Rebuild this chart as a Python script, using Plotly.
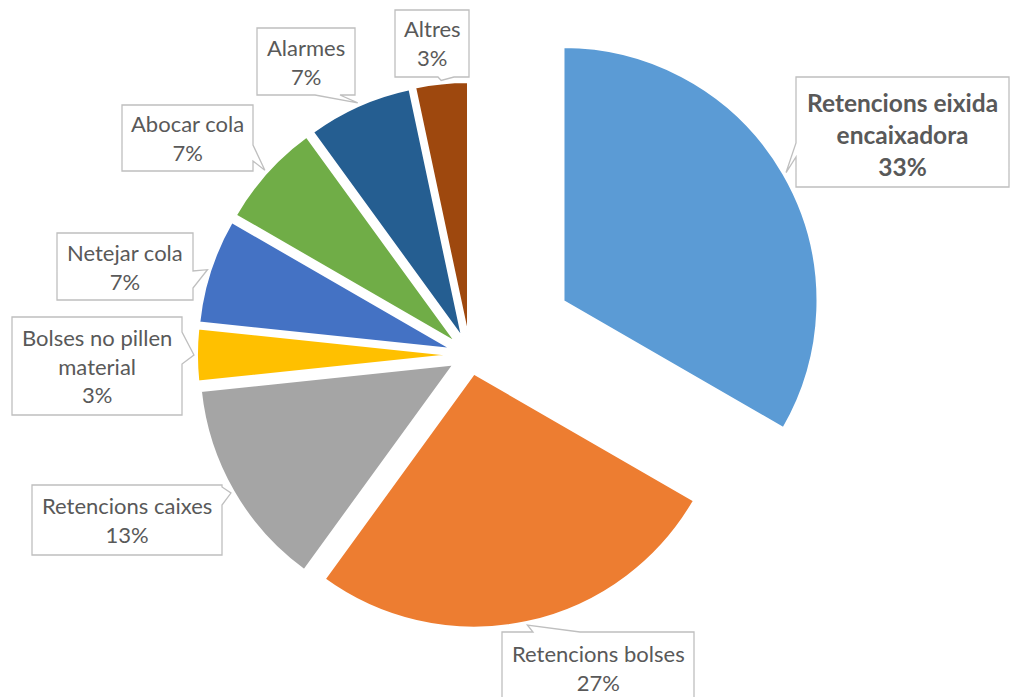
import math
import plotly.graph_objects as go

# Incident counts per cause (share of total shown in the callouts)
categories = [
    "Retencions eixida encaixadora",
    "Retencions bolses",
    "Retencions caixes",
    "Bolses no pillen material",
    "Netejar cola",
    "Abocar cola",
    "Alarmes",
    "Altres",
]
counts = [10, 8, 4, 1, 2, 2, 2, 1]
label_lines = [
    "Retencions eixida<br>encaixadora",
    "Retencions bolses",
    "Retencions caixes",
    "Bolses no pillen<br>material",
    "Netejar cola",
    "Abocar cola",
    "Alarmes",
    "Altres",
]
colors = ["#5B9BD5", "#ED7D31", "#A5A5A5", "#FFC000",
          "#4472C4", "#70AD47", "#255E91", "#9E480E"]

W, H = 1011, 697
TEXT = "#595959"
FONT = "Lato"

# pie geometry in pixels
CX, CY = 470, 355          # centre of the main pie
R = 254                    # slice radius
PULL = 0.075               # explosion of every slice (fraction of R)
BIG_PULL = 0.425           # extra explosion of the leading slice
LINE_W = 2

total = sum(counts)
n = len(counts)


def px(x):
    return x / W


def py(y):
    return 1 - y / H


def mid_angle(i):
    start = sum(counts[:i])
    return (start + counts[i] / 2) / total * 2 * math.pi


# main pie: all slices except the first, which is drawn separately further out
half = R * (1 + PULL)
main_colors = ["rgba(0,0,0,0)"] + colors[1:]
main_lines = ["rgba(0,0,0,0)"] + ["white"] * (n - 1)

a0 = mid_angle(0)
bx = CX + BIG_PULL * R * math.sin(a0)
by = CY - BIG_PULL * R * math.cos(a0)
lead_colors = [colors[0]] + ["rgba(0,0,0,0)"] * (n - 1)
lead_lines = ["white"] + ["rgba(0,0,0,0)"] * (n - 1)

fig = go.Figure()
fig.add_trace(go.Pie(
    labels=categories, values=counts, sort=False, direction="clockwise",
    rotation=0, pull=[PULL] * n, textinfo="none", hoverinfo="skip",
    marker=dict(colors=main_colors, line=dict(color=main_lines, width=LINE_W)),
    domain=dict(x=[px(CX - half), px(CX + half)], y=[py(CY + half), py(CY - half)]),
    showlegend=False,
))
fig.add_trace(go.Pie(
    labels=categories, values=counts, sort=False, direction="clockwise",
    rotation=0, textinfo="none", hoverinfo="skip",
    marker=dict(colors=lead_colors, line=dict(color=lead_lines, width=LINE_W)),
    domain=dict(x=[px(bx - R), px(bx + R)], y=[py(by + R), py(by - R)]),
    showlegend=False,
))

# callout boxes: left, top, right, bottom, side of the pointer, pointer base span
boxes = [
    (796, 77, 1009, 187, "left", 143, 157),
    (502, 632, 694, 703, "top", 533, 580),
    (32, 485, 222, 555, "right", 487, 505),
    (12, 317, 182, 415, "right", 332, 364),
    (57, 233, 193, 300, "right", 271, 288),
    (122, 105, 253, 171, "right", 145, 161),
    (257, 28, 355, 95, "bottom", 315, 340),
    (395, 10, 469, 77, "bottom", 438, 454),
]

shapes = []
annotations = []
for i, (l, t, r, b, side, s0, s1) in enumerate(boxes):
    ang = mid_angle(i)
    if i == 0:
        ox, oy, reach = bx, by, R + 3
    else:
        ox, oy, reach = CX, CY, R * (1 + PULL) + 3
    tx = ox + reach * math.sin(ang)
    ty = oy - reach * math.cos(ang)
    if side == "left":
        pts = [(l, t), (r, t), (r, b), (l, b), (l, s1), (tx, ty), (l, s0)]
    elif side == "right":
        pts = [(l, t), (r, t), (r, s0), (tx, ty), (r, s1), (r, b), (l, b)]
    elif side == "top":
        pts = [(l, t), (s0, t), (tx, ty), (s1, t), (r, t), (r, b), (l, b)]
    else:
        pts = [(l, t), (r, t), (r, b), (s1, b), (tx, ty), (s0, b), (l, b)]
    path = "M " + " L ".join(f"{px(x):.5f},{py(y):.5f}" for x, y in pts) + " Z"
    shapes.append(dict(type="path", xref="paper", yref="paper", path=path,
                       fillcolor="white", line=dict(color="#BFBFBF", width=1.3),
                       layer="above"))

    pct = round(counts[i] / total * 100)
    text = f"{label_lines[i]}<br>{pct}%"
    size = 22
    cy_text = (t + b) / 2
    if i == 0:
        text = f"<b>{text}</b>"
        size = 24.5
        cy_text += 2
    annotations.append(dict(
        x=px((l + r) / 2), y=py(cy_text), xref="paper", yref="paper",
        text=text, showarrow=False, xanchor="center", yanchor="middle",
        align="center", font=dict(family=FONT, size=size, color=TEXT),
    ))

fig.update_layout(
    width=W, height=H,
    margin=dict(l=0, r=0, t=0, b=0),
    paper_bgcolor="white", plot_bgcolor="white",
    shapes=shapes, annotations=annotations,
)

fig.write_html("out.html")
